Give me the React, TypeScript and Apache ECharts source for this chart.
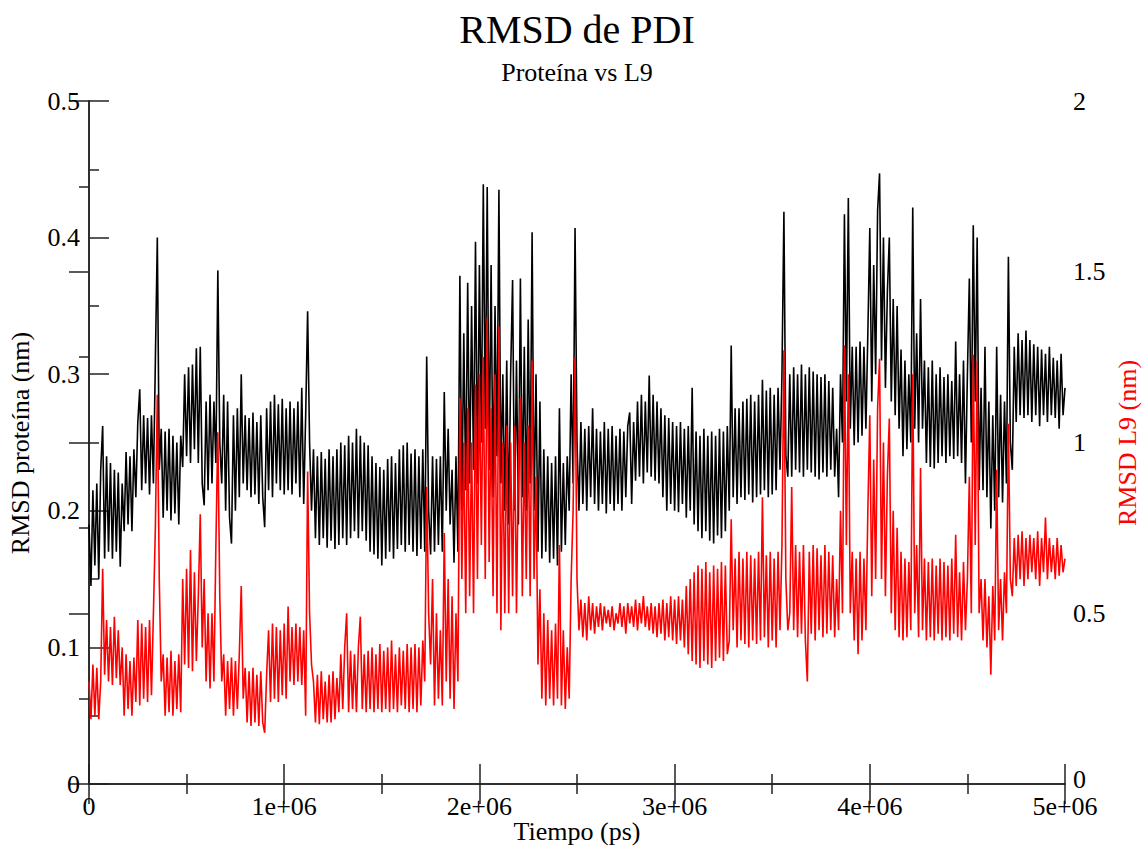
import React, { useEffect, useRef } from "react";
import * as echarts from "echarts";

const STEP_PS = 10000;
const X_TICKS = [0, 1e6, 2e6, 3e6, 4e6, 5e6];

const RMSD_PROTEINA = [
  0.19, 0.145, 0.215, 0.16, 0.22, 0.15, 0.23, 0.262, 0.165, 0.24,
  0.17, 0.235, 0.165, 0.23, 0.17, 0.228, 0.159, 0.22,
  0.185, 0.243, 0.19, 0.24, 0.185, 0.245,
  0.21, 0.265, 0.289, 0.215, 0.27, 0.22, 0.268, 0.212, 0.27, 0.22,
  0.31, 0.40, 0.23, 0.26,
  0.195, 0.258, 0.2, 0.26, 0.193, 0.255, 0.198, 0.25, 0.19, 0.255,
  0.232, 0.3, 0.24, 0.305, 0.235, 0.307, 0.245, 0.319,
  0.235, 0.32, 0.22, 0.204, 0.28, 0.215,
  0.285, 0.22, 0.28, 0.235,
  0.376, 0.25, 0.22,
  0.285, 0.2, 0.28, 0.195, 0.176, 0.27, 0.2, 0.275, 0.21,
  0.30, 0.22,
  0.27, 0.215, 0.268, 0.21, 0.272, 0.212, 0.265, 0.205, 0.27, 0.21,
  0.188, 0.275,
  0.215, 0.28, 0.21, 0.285, 0.22, 0.278, 0.215, 0.282, 0.212, 0.275,
  0.215, 0.28, 0.212, 0.275, 0.22, 0.28, 0.21, 0.29, 0.205, 0.27,
  0.346, 0.25, 0.2,
  0.245, 0.18, 0.24, 0.175, 0.243, 0.18, 0.238, 0.173, 0.245, 0.178, 0.24, 0.172, 0.245,
  0.175, 0.25, 0.18, 0.248, 0.175, 0.255, 0.18, 0.25, 0.185, 0.26, 0.18, 0.255, 0.185, 0.25, 0.178, 0.248,
  0.17, 0.24, 0.168, 0.235, 0.165, 0.232, 0.16, 0.23, 0.165, 0.238, 0.17, 0.24, 0.165, 0.235,
  0.172, 0.245, 0.175, 0.248, 0.17, 0.25, 0.175, 0.242, 0.17, 0.245, 0.167, 0.24, 0.172, 0.245, 0.17,
  0.313, 0.2, 0.168,
  0.24, 0.17, 0.238, 0.175, 0.24, 0.17,
  0.287, 0.2, 0.26,
  0.19, 0.23, 0.162, 0.24, 0.17,
  0.372, 0.2, 0.33, 0.215, 0.367, 0.22, 0.35, 0.23, 0.397, 0.22,
  0.38, 0.25, 0.439, 0.26, 0.437, 0.23, 0.38, 0.21, 0.35, 0.24,
  0.435, 0.22, 0.3, 0.2,
  0.31, 0.19, 0.3, 0.369, 0.2, 0.31, 0.19, 0.37, 0.21, 0.32,
  0.2, 0.34, 0.22, 0.404, 0.2, 0.3, 0.17, 0.28,
  0.165, 0.245, 0.17, 0.24, 0.162, 0.235, 0.165, 0.24, 0.16, 0.275,
  0.17, 0.235, 0.175, 0.24, 0.2, 0.3, 0.22, 0.407, 0.25, 0.2,
  0.265, 0.205, 0.26, 0.2, 0.262, 0.21, 0.275, 0.205, 0.26, 0.2,
  0.258, 0.205, 0.265, 0.198, 0.26, 0.205, 0.262, 0.2, 0.255, 0.205,
  0.26, 0.2, 0.258, 0.21, 0.262, 0.272, 0.205, 0.265,
  0.222, 0.28, 0.225, 0.285, 0.22, 0.28, 0.228, 0.299, 0.225, 0.285,
  0.222, 0.28, 0.22, 0.275, 0.21, 0.27,
  0.2, 0.268, 0.205, 0.265, 0.2, 0.262, 0.199, 0.265, 0.205, 0.26,
  0.195, 0.262, 0.2, 0.29, 0.19, 0.258, 0.185, 0.255, 0.18, 0.26,
  0.185, 0.255, 0.178, 0.258, 0.176, 0.255, 0.182, 0.26, 0.18, 0.258,
  0.185, 0.262,
  0.2, 0.321, 0.21, 0.275,
  0.205, 0.275, 0.21, 0.28, 0.208, 0.282, 0.212, 0.285, 0.206, 0.28,
  0.21, 0.285, 0.212, 0.296, 0.215, 0.288, 0.21, 0.29, 0.212, 0.285,
  0.215, 0.29, 0.23,
  0.3, 0.419, 0.24, 0.225,
  0.3, 0.225, 0.305, 0.23, 0.3, 0.228, 0.307, 0.225, 0.3, 0.23,
  0.305, 0.228, 0.302, 0.225, 0.3, 0.223, 0.298, 0.228, 0.3, 0.225,
  0.295, 0.23, 0.29, 0.225,
  0.26, 0.21, 0.3, 0.25, 0.417, 0.28, 0.429, 0.26, 0.32, 0.248, 0.32,
  0.25, 0.324, 0.255, 0.32, 0.26, 0.33,
  0.407, 0.28, 0.38, 0.3, 0.42, 0.447, 0.31, 0.4, 0.29, 0.36,
  0.4, 0.28, 0.355, 0.27, 0.35, 0.26,
  0.318, 0.24, 0.31, 0.245, 0.3, 0.25,
  0.422, 0.26, 0.33, 0.25, 0.355, 0.26,
  0.31, 0.235, 0.305, 0.232, 0.31, 0.231, 0.3, 0.235, 0.305, 0.24,
  0.298, 0.235, 0.3, 0.24, 0.295, 0.238, 0.324, 0.24, 0.3, 0.235,
  0.31, 0.22, 0.3, 0.37, 0.25, 0.409,
  0.28, 0.4, 0.215, 0.29, 0.215, 0.32, 0.21, 0.28, 0.187, 0.27,
  0.2, 0.32, 0.21, 0.285, 0.206, 0.28, 0.22, 0.386, 0.25, 0.23,
  0.32, 0.265, 0.33, 0.27, 0.325, 0.268, 0.332, 0.27, 0.325, 0.265,
  0.322, 0.27, 0.32, 0.262, 0.318, 0.27, 0.315, 0.265, 0.32, 0.27,
  0.312, 0.268, 0.31, 0.26, 0.315, 0.27, 0.29,
];

const RMSD_L9 = [
  0.3, 0.19, 0.35, 0.2, 0.34, 0.19, 0.3, 0.63,
  0.32, 0.48, 0.3, 0.46, 0.29, 0.49, 0.31, 0.45, 0.29, 0.4,
  0.2, 0.38, 0.22, 0.36, 0.2, 0.37,
  0.24, 0.48, 0.23, 0.47, 0.25, 0.46, 0.24, 0.48, 0.26, 0.5,
  0.75, 1.14, 0.6, 0.3,
  0.38, 0.2, 0.37, 0.21, 0.39, 0.2, 0.36, 0.22, 0.38, 0.21,
  0.6, 0.35, 0.63, 0.34, 0.685, 0.33, 0.62, 0.36,
  0.55, 0.79, 0.4, 0.6, 0.3, 0.5,
  0.28, 0.5, 0.3, 0.7,
  1.03, 0.55, 0.3,
  0.38, 0.2, 0.36, 0.22, 0.37, 0.2, 0.36, 0.22, 0.38,
  0.58, 0.25,
  0.34, 0.18, 0.33, 0.17, 0.34, 0.18, 0.32, 0.17, 0.33, 0.18,
  0.15, 0.32,
  0.45, 0.24, 0.47, 0.25, 0.46, 0.24, 0.45, 0.26, 0.47, 0.25,
  0.52, 0.3, 0.46, 0.29, 0.47, 0.3, 0.46, 0.29, 0.45, 0.2,
  0.915, 0.5, 0.35,
  0.3, 0.18, 0.32, 0.175, 0.33, 0.19, 0.3, 0.18, 0.32, 0.18, 0.33, 0.19, 0.31,
  0.21, 0.38, 0.22, 0.4, 0.5, 0.21, 0.39, 0.22, 0.38, 0.21, 0.4, 0.49, 0.22, 0.38, 0.21, 0.39,
  0.22, 0.4, 0.21, 0.38, 0.22, 0.41, 0.21, 0.39, 0.22, 0.4, 0.21, 0.42, 0.22, 0.38,
  0.21, 0.4, 0.23, 0.39, 0.22, 0.41, 0.21, 0.4, 0.22, 0.41, 0.21, 0.4, 0.23, 0.42, 0.3,
  0.87, 0.5, 0.35,
  0.6, 0.23, 0.5, 0.25, 0.45, 0.23,
  0.735, 0.3, 0.6,
  0.25, 0.55, 0.22, 0.5, 0.3,
  1.13, 0.6, 1.0, 0.5, 1.1, 0.55, 1.0, 0.5, 1.17, 0.6,
  1.2, 0.7, 1.25, 0.6, 1.365, 0.65, 1.1, 0.55, 1.2, 0.5,
  1.34, 0.45, 1.0, 0.5,
  1.05, 0.5, 1.0, 0.55, 1.05, 0.5, 0.95, 1.13, 0.55, 1.0,
  0.6, 1.05, 0.55, 1.24, 0.6, 0.9, 0.35, 0.57,
  0.25, 0.5, 0.23, 0.48, 0.25, 0.45, 0.23, 0.47, 0.25, 0.7,
  0.23, 0.45, 0.22, 0.4, 0.25, 0.6, 0.8, 1.25, 0.6, 0.45,
  0.54, 0.43, 0.53, 0.42, 0.55, 0.45, 0.53, 0.44, 0.52, 0.46,
  0.53, 0.45, 0.52, 0.47, 0.51, 0.46, 0.52, 0.45, 0.5, 0.47,
  0.53, 0.46, 0.52, 0.44, 0.53, 0.47, 0.52, 0.46, 0.54, 0.45,
  0.53, 0.47, 0.55, 0.46, 0.52, 0.45, 0.53, 0.44, 0.52, 0.43,
  0.53, 0.44, 0.54, 0.42, 0.53, 0.43, 0.55, 0.42, 0.54, 0.41,
  0.55, 0.42, 0.54, 0.4,
  0.58, 0.38, 0.6, 0.36, 0.62, 0.35, 0.64, 0.34, 0.63, 0.36,
  0.65, 0.35, 0.62, 0.34, 0.64, 0.36, 0.63, 0.37, 0.65, 0.36,
  0.64, 0.38,
  0.42, 0.775, 0.45, 0.66,
  0.4, 0.68, 0.42, 0.66, 0.41, 0.68, 0.4, 0.67, 0.42, 0.66,
  0.41, 0.68, 0.42, 0.84, 0.43, 0.67, 0.4, 0.68, 0.42, 0.66,
  0.4, 0.68, 0.45,
  0.7, 1.27, 0.6, 0.45,
  0.5, 0.87, 0.45, 0.7, 0.43, 0.68, 0.44, 0.7, 0.42, 0.3,
  0.68, 0.44, 0.7, 0.42, 0.69, 0.45, 0.67, 0.43, 0.7, 0.44,
  0.68, 0.45, 0.67, 0.43,
  0.6, 0.45, 0.8, 0.5, 1.285, 0.7, 1.2, 0.5, 0.68, 0.42, 0.66,
  0.38, 0.68, 0.42, 0.66, 0.45, 0.8,
  1.08, 0.55, 0.95, 0.6, 1.1, 1.245, 0.6, 1.0, 0.55, 0.9,
  1.07, 0.5, 0.8, 0.45, 0.75, 0.43,
  0.68, 0.42, 0.66, 0.43, 0.65, 0.45,
  1.2, 0.5, 0.7, 0.43, 0.925, 0.45,
  0.66, 0.42, 0.65, 0.43, 0.66, 0.42, 0.64, 0.44, 0.66, 0.42,
  0.65, 0.43, 0.64, 0.42, 0.66, 0.44, 0.73, 0.43, 0.62, 0.42,
  0.65, 0.45, 0.6, 0.9, 0.5, 1.257,
  0.7, 1.24, 0.5, 0.6, 0.42, 0.6, 0.4, 0.55, 0.32, 0.58,
  0.42, 0.92, 0.45, 0.6, 0.42, 0.62, 0.5, 1.055, 0.6, 0.55,
  0.72, 0.58, 0.73, 0.6, 0.74, 0.58, 0.72, 0.6, 0.73, 0.62,
  0.72, 0.6, 0.74, 0.58, 0.72, 0.62, 0.78, 0.6, 0.72, 0.62,
  0.7, 0.6, 0.72, 0.61, 0.7, 0.62, 0.66,
];

const FONT = '"Liberation Serif", "Times New Roman", serif';

export default function App() {
  const ref = useRef<HTMLDivElement>(null);

  useEffect(() => {
    if (!ref.current) return;
    const chart = echarts.init(ref.current, null, { renderer: "svg" });
    const blackData = RMSD_PROTEINA.map((v, i) => [i * STEP_PS, v]);
    const redData = RMSD_L9.map((v, i) => [i * STEP_PS, v]);
    const axisLine = { show: true, lineStyle: { color: "#222", width: 1.5 } };
    const tick = { show: true, inside: true, length: 20, lineStyle: { color: "#222", width: 1.5 } };
    const minor = { show: true, splitNumber: 2, length: 10, lineStyle: { color: "#222", width: 1.5 } };
    const xMin = X_TICKS[0];
    const xMax = X_TICKS[X_TICKS.length - 1];
    const xInt = X_TICKS[1] - X_TICKS[0];
    const labelStyle = { color: "#000", fontFamily: FONT, fontSize: 26 };

    chart.setOption({
      animation: false,
      backgroundColor: "#fff",
      grid: { left: 89, right: 79, top: 101, bottom: 65, containLabel: false },
      xAxis: [
        {
          type: "value",
          min: xMin,
          max: xMax,
          interval: xInt,
          position: "bottom",
          axisLine,
          axisTick: tick,
          minorTick: minor,
          splitLine: { show: false },
          axisLabel: {
            ...labelStyle,
            margin: 9,
            formatter: (v: number) => (v === 0 ? "0" : `${v / 1e6}e+06`),
          },
        },
        {
          type: "value",
          min: xMin,
          max: xMax,
          interval: xInt,
          position: "top",
          axisLine,
          axisTick: tick,
          minorTick: minor,
          splitLine: { show: false },
          axisLabel: { show: false },
        },
      ],
      yAxis: [
        {
          type: "value",
          min: 0,
          max: 0.5,
          interval: 0.1,
          position: "left",
          axisLine,
          axisTick: tick,
          minorTick: minor,
          splitLine: { show: false },
          axisLabel: { ...labelStyle, margin: 9 },
        },
        {
          type: "value",
          min: 0,
          max: 2,
          interval: 0.5,
          position: "right",
          axisLine,
          axisTick: tick,
          minorTick: minor,
          splitLine: { show: false },
          axisLabel: {
            ...labelStyle,
            margin: 8,
            formatter: (v: number) => (v === 0 ? "{z|0}" : `${v}`),
            rich: {
              z: { color: "#000", fontFamily: FONT, fontSize: 26, padding: [0, 0, 10, 0] },
            },
          },
        },
      ],
      graphic: [
        {
          type: "text",
          x: 577,
          y: 29,
          style: { text: "RMSD de PDI", fontFamily: FONT, fontSize: 40, fill: "#000", align: "center", verticalAlign: "middle" },
        },
        {
          type: "text",
          x: 577,
          y: 72,
          style: { text: "Proteína vs L9", fontFamily: FONT, fontSize: 26, fill: "#000", align: "center", verticalAlign: "middle" },
        },
        {
          type: "text",
          x: 577,
          y: 831,
          style: { text: "Tiempo (ps)", fontFamily: FONT, fontSize: 26, fill: "#000", align: "center", verticalAlign: "middle" },
        },
        {
          type: "text",
          x: 20,
          y: 443,
          rotation: Math.PI / 2,
          style: { text: "RMSD proteína (nm)", fontFamily: FONT, fontSize: 26, fill: "#000", align: "center", verticalAlign: "middle" },
        },
        {
          type: "text",
          x: 1127,
          y: 443,
          rotation: Math.PI / 2,
          style: { text: "RMSD L9 (nm)", fontFamily: FONT, fontSize: 26, fill: "#ff0000", align: "center", verticalAlign: "middle" },
        },
      ],
      series: [
        {
          name: "RMSD proteína",
          type: "line",
          xAxisIndex: 0,
          yAxisIndex: 0,
          data: blackData,
          showSymbol: false,
          symbol: "none",
          lineStyle: { color: "#000", width: 1.6 },
          itemStyle: { color: "#000" },
        },
        {
          name: "RMSD L9",
          type: "line",
          xAxisIndex: 0,
          yAxisIndex: 1,
          data: redData,
          showSymbol: false,
          symbol: "none",
          lineStyle: { color: "#ff0000", width: 1.6 },
          itemStyle: { color: "#ff0000" },
        },
      ],
    });
    return () => chart.dispose();
  }, []);

  return (
    <div
      ref={ref}
      style={{ position: "fixed", left: 0, top: 0, width: 1144, height: 849, background: "#fff" }}
    />
  );
}
